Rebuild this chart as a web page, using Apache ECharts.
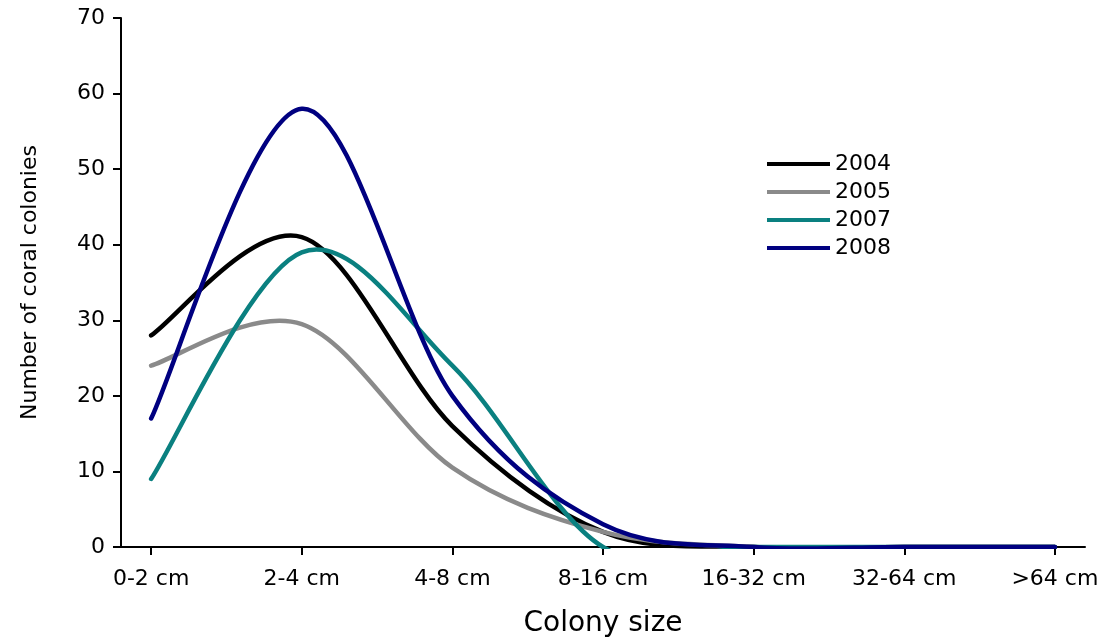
<!DOCTYPE html>
<html>
<head>
<meta charset="utf-8">
<script src="https://cdn.jsdelivr.net/npm/echarts@6/dist/echarts.min.js"></script>
<style>
  html, body { margin: 0; padding: 0; background: #fff; }
  #main { width: 1100px; height: 638px; }
</style>
</head>
<body>
<div id="main"></div>
<script>
  // colony size classes and counts per survey year
  let categories = ['0-2 cm', '2-4 cm', '4-8 cm', '8-16 cm', '16-32 cm', '32-64 cm', '>64 cm']
  let years = ['2004', '2005', '2007', '2008']
  let y2004 = [28, 41, 16, 2, 0, 0, 0]
  let y2005 = [24, 29.5, 10.5, 2, 0, 0, 0]
  let y2007 = [9, 39, 24, 0, 0, 0, 0]
  let y2008 = [17, 58, 20, 3, 0, 0, 0]
  let yTicks = [0, 10, 20, 30, 40, 50, 60, 70]

  let colors = ['#000000', '#8a8a8a', '#0a8080', '#000080']
  let font = 'DejaVu Sans'

  let allData = [y2004, y2005, y2007, y2008]
  let idx = categories.map(function (c, i) { return i })

  function toPoints(arr) {
    return arr.map(function (v, i) { return [i, v] })
  }

  // spreadsheet style smoothed line (catmull-rom through the pixel points)
  function smoothPath(pts) {
    let d = 'M' + pts[0][0] + ' ' + pts[0][1]
    for (let i = 0; i < pts.length - 1; i++) {
      let p0 = pts[i - 1] || pts[i]
      let p1 = pts[i]
      let p2 = pts[i + 1]
      let p3 = pts[i + 2] || pts[i + 1]
      let c1x = p1[0] + (p2[0] - p0[0]) / 6
      let c1y = p1[1] + (p2[1] - p0[1]) / 6
      let c2x = p2[0] - (p3[0] - p1[0]) / 6
      let c2y = p2[1] - (p3[1] - p1[1]) / 6
      d += ' C' + c1x + ' ' + c1y + ' ' + c2x + ' ' + c2y + ' ' + p2[0] + ' ' + p2[1]
    }
    return d
  }

  function renderCurve(params, api) {
    if (params.dataIndex !== 0) return
    let k = params.seriesIndex
    let pts = allData[k].map(function (v, i) { return api.coord([i, v]) })
    let cs = params.coordSys
    return {
      type: 'group',
      clipPath: {
        type: 'rect',
        shape: { x: cs.x, y: cs.y - 4, width: cs.width, height: cs.height + 6 }
      },
      children: [{
        type: 'path',
        shape: { pathData: smoothPath(pts) },
        style: {
          fill: 'none',
          stroke: colors[k],
          lineWidth: 4.5,
          lineJoin: 'round',
          lineCap: 'round'
        }
      }]
    }
  }

  const option = {
    backgroundColor: '#ffffff',
    animation: false,
    grid: {
      left: 121,
      right: 15,
      top: 18,
      bottom: 91,
      outerBoundsMode: 'none'
    },
    legend: {
      left: 762,
      top: 148,
      orient: 'vertical',
      icon: 'rect',
      itemWidth: 63,
      itemHeight: 4,
      itemGap: 6,
      textStyle: {
        fontFamily: font,
        fontSize: 22,
        lineHeight: 20,
        color: '#000'
      },
      data: years
    },
    xAxis: {
      type: 'value',
      min: -0.2,
      max: 6.2,
      name: 'Colony size',
      nameLocation: 'middle',
      nameGap: 63,
      nameTextStyle: {
        fontFamily: font,
        fontSize: 28,
        color: '#000'
      },
      splitLine: { show: false },
      axisLine: {
        lineStyle: { color: '#000', width: 2 }
      },
      axisTick: {
        customValues: idx,
        length: 8,
        lineStyle: { color: '#000', width: 2 }
      },
      axisLabel: {
        customValues: idx,
        margin: 21,
        fontFamily: font,
        fontSize: 22,
        color: '#000',
        formatter: function (v) {
          return categories[Math.round(v)]
        }
      }
    },
    yAxis: {
      type: 'value',
      min: yTicks[0],
      max: yTicks[yTicks.length - 1],
      interval: 10,
      name: 'Number of coral colonies',
      nameLocation: 'middle',
      nameGap: 80,
      nameTextStyle: {
        fontFamily: font,
        fontSize: 22,
        color: '#000'
      },
      splitLine: { show: false },
      axisLine: {
        show: true,
        onZero: false,
        lineStyle: { color: '#000', width: 2 }
      },
      axisTick: {
        show: true,
        length: 8,
        lineStyle: { color: '#000', width: 2 }
      },
      axisLabel: {
        margin: 16,
        fontFamily: font,
        fontSize: 22,
        color: '#000'
      }
    },
    series: years.map(function (name, i) {
      return {
        name: name,
        type: 'custom',
        renderItem: renderCurve,
        encode: { x: 0, y: 1 },
        itemStyle: { color: colors[i] },
        data: toPoints(allData[i])
      }
    })
  }

  let eChart = echarts.init(document.getElementById('main'), null, { renderer: 'canvas' })
  eChart.setOption(option)
</script>
</body>
</html>
